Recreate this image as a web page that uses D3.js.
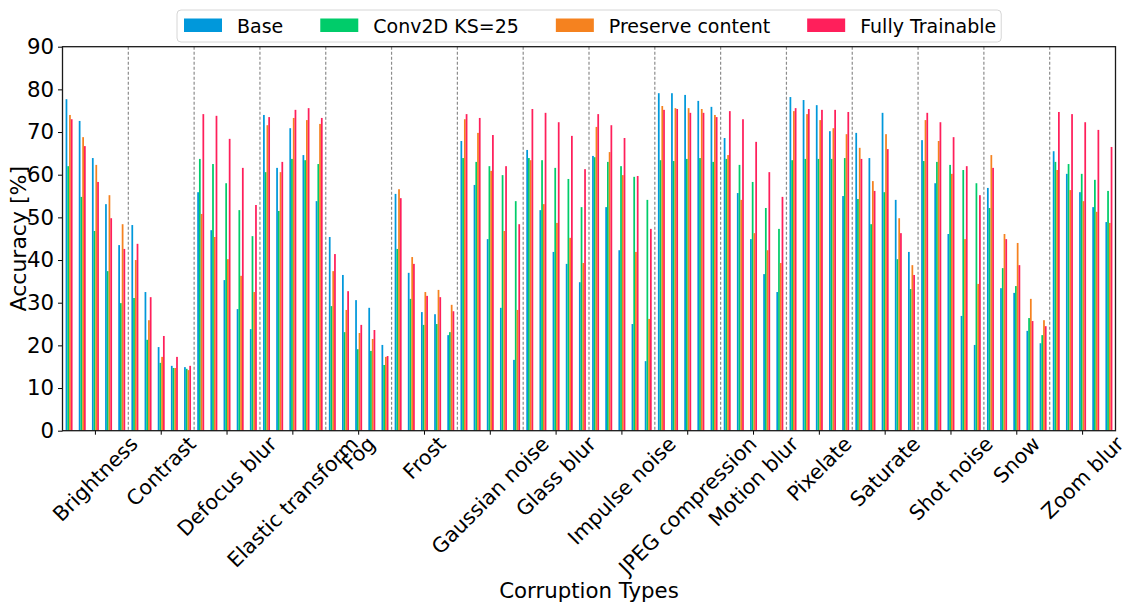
<!DOCTYPE html>
<html>
<head>
<meta charset="utf-8">
<script src="https://cdn.jsdelivr.net/npm/d3@7"></script>
<style>
  body { margin: 0; background: #fff; }
  text { font-family: "DejaVu Sans", sans-serif; fill: #000; }
</style>
</head>
<body>
<svg width="1122" height="603"></svg>
<script>
// categories and severities
const categories = ["Brightness", "Contrast", "Defocus blur", "Elastic transform", "Fog", "Frost",
  "Gaussian noise", "Glass blur", "Impulse noise", "JPEG compression", "Motion blur", "Pixelate",
  "Saturate", "Shot noise", "Snow", "Zoom blur"];
const severities = [1, 2, 3, 4, 5];
const seriesNames = ["Base", "Conv2D KS=25", "Preserve content", "Fully Trainable"];
const yTicks = [0, 10, 20, 30, 40, 50, 60, 70, 80, 90];

// accuracy per category x severity (5 values per category)
const base = [
  77.7, 72.6, 63.9, 53.1, 43.5,
  48.2, 32.5, 19.6, 15.2, 14.9,
  55.9, 47.0, 35.3, 28.5, 23.8,
  74.0, 61.6, 70.9, 64.6, 53.8,
  45.4, 36.5, 30.6, 28.8, 20.1,
  55.5, 37.0, 27.8, 27.3, 22.4,
  67.9, 57.6, 44.9, 28.8, 16.6,
  65.8, 51.7, 41.9, 39.1, 34.8,
  64.4, 52.4, 42.3, 25.0, 16.3,
  79.1, 79.1, 78.7, 77.3, 75.9,
  68.6, 55.7, 44.9, 36.7, 32.5,
  78.2, 77.5, 76.3, 70.2, 55.0,
  69.8, 63.9, 74.5, 54.1, 41.9,
  68.1, 58.0, 46.1, 26.9, 20.1,
  56.9, 33.4, 32.3, 23.4, 20.5,
  65.5, 60.2, 55.9, 52.4, 48.9
];
const conv2d = [
  62.0, 54.8, 46.8, 37.4, 29.9,
  31.1, 21.3, 15.9, 14.7, 14.5,
  63.7, 62.5, 58.0, 51.7, 45.6,
  60.6, 51.5, 63.7, 63.4, 62.5,
  29.2, 23.1, 19.1, 18.7, 15.4,
  42.6, 30.9, 24.8, 25.0, 23.1,
  63.9, 63.0, 62.0, 59.9, 53.8,
  63.9, 63.4, 61.6, 59.0, 52.4,
  64.1, 63.0, 62.0, 59.5, 54.1,
  63.4, 63.2, 63.7, 63.9, 63.0,
  63.7, 62.3, 58.3, 52.2, 47.3,
  63.4, 63.7, 63.7, 63.7, 63.9,
  54.3, 48.4, 55.9, 40.2, 33.2,
  63.2, 63.0, 62.3, 61.1, 58.0,
  52.2, 38.1, 33.9, 26.4, 22.4,
  63.0, 62.5, 60.2, 58.8, 56.2
];
const preserve = [
  74.0, 68.8, 62.3, 55.2, 48.4,
  40.0, 25.9, 17.3, 14.7, 14.2,
  50.8, 45.4, 40.2, 36.3, 32.5,
  71.6, 60.6, 73.3, 72.8, 71.9,
  37.4, 28.3, 22.9, 21.5, 17.3,
  56.6, 40.7, 32.5, 33.0, 29.5,
  73.0, 69.8, 60.9, 46.8, 28.3,
  63.4, 53.1, 48.7, 45.2, 39.3,
  71.2, 65.3, 59.9, 41.9, 26.2,
  76.1, 75.6, 75.6, 75.4, 74.0,
  64.6, 54.1, 46.3, 42.3, 39.3,
  74.9, 74.2, 72.8, 70.9, 69.5,
  66.3, 58.5, 69.5, 49.8, 38.8,
  72.8, 67.9, 60.2, 44.9, 34.4,
  64.6, 46.1, 44.0, 30.9, 25.9,
  61.1, 56.4, 53.8, 51.3, 48.7
];
const fully = [
  73.0, 66.7, 58.3, 49.8, 42.6,
  43.8, 31.3, 22.2, 17.3, 15.2,
  74.2, 73.8, 68.4, 61.6, 52.9,
  73.5, 63.0, 75.2, 75.6, 73.3,
  41.4, 32.7, 24.8, 23.6, 17.5,
  54.5, 39.1, 31.6, 31.3, 28.0,
  74.2, 73.3, 69.3, 62.0, 48.4,
  75.4, 74.5, 72.3, 69.1, 61.3,
  74.2, 71.6, 68.6, 59.7, 47.3,
  75.2, 75.4, 74.5, 74.5, 73.5,
  74.9, 73.0, 67.7, 60.6, 54.8,
  75.6, 75.4, 75.2, 75.2, 74.7,
  63.7, 56.2, 66.0, 46.3, 36.5,
  74.5, 72.3, 68.8, 62.0, 55.2,
  61.6, 44.9, 38.8, 25.7, 24.5,
  74.7, 74.2, 72.3, 70.5, 66.5
];
const colors = ["#0098DB", "#00CC6A", "#F5821F", "#FF1F5B"];

const svg = d3.select("svg");
const margin = {top: 46.7, right: 6.5, bottom: 172.3, left: 62.5};
const width = 1122 - margin.left - margin.right,
      height = 603 - margin.top - margin.bottom;
const g = svg.append("g").attr("transform", `translate(${margin.left},${margin.top})`);
const bigFont = 21.3;

// one slot per (category, severity)
const slots = [];
categories.forEach((c, ci) => severities.forEach((s, si) => slots.push({cat: c, ci: ci, sev: s, i: ci * 5 + si})));

const xCat = d3.scaleBand().domain(categories).range([0, width]);
const xSlot = d3.scaleBand().domain(slots.map(d => d.i)).range([0, width]);
const groupW = xSlot.bandwidth() * 0.53;
const xSeries = d3.scaleBand().domain(seriesNames).range([0, groupW]);
const y = d3.scaleLinear().domain([0, 90]).range([height, 0]);

const allSeries = [base, conv2d, preserve, fully];
const barData = [];
slots.forEach(d => allSeries.forEach((arr, k) => barData.push({i: d.i, s: seriesNames[k], k: k, v: arr[d.i]})));

// dashed separators between corruption types
g.append("g")
  .selectAll("line")
  .data(categories.slice(1))
  .join("line")
  .attr("x1", d => xCat(d))
  .attr("x2", d => xCat(d))
  .attr("y1", 0)
  .attr("y2", height)
  .attr("stroke", "#8c8c8c")
  .attr("stroke-width", 1.2)
  .style("stroke-dasharray", "3,2");

// bars
g.append("g")
  .selectAll("rect")
  .data(barData)
  .join("rect")
  .attr("x", d => xSlot(d.i) + xSlot.bandwidth() / 2 - groupW / 2 + xSeries(d.s))
  .attr("y", d => y(d.v))
  .attr("width", xSeries.bandwidth())
  .attr("height", d => height - y(d.v))
  .attr("fill", d => colors[d.k]);

// y axis
const yAxis = g.append("g")
  .call(d3.axisLeft(y).tickValues(yTicks).tickSize(4.5).tickPadding(4));
yAxis.select(".domain").remove();
yAxis.selectAll("text").style("font-size", bigFont + "px").style("font-family", "DejaVu Sans");
yAxis.selectAll("line").attr("stroke", "#000").attr("stroke-width", 1);

// x ticks
const xAxis = g.append("g")
  .attr("transform", `translate(0,${height})`)
  .call(d3.axisBottom(xCat).tickSize(4).tickFormat(""));
xAxis.select(".domain").remove();

// rotated tick labels, centered on the tick like matplotlib ha='center'
const labels = g.append("g")
  .selectAll("text")
  .data(categories)
  .join("text")
  .style("font-size", "20.6px")
  .attr("text-anchor", "middle")
  .attr("dominant-baseline", "central")
  .text(d => d);
labels.attr("transform", function(d) {
  const w = this.getComputedTextLength();
  const side = (w + 20) * Math.SQRT1_2;
  const cx = xCat(d) + xCat.bandwidth() / 2;
  const cy = height + 2.5 + side / 2;
  return `translate(${cx},${cy}) rotate(-45)`;
});

// frame
g.append("rect")
  .attr("width", width)
  .attr("height", height)
  .attr("fill", "none")
  .attr("stroke", "#1a1a1a")
  .attr("stroke-width", 1.3);

// axis titles
svg.append("text")
  .attr("text-anchor", "middle")
  .attr("transform", `translate(26,${margin.top + height / 2}) rotate(-90)`)
  .style("font-size", "22px")
  .text("Accuracy [%]");

svg.append("text")
  .attr("text-anchor", "middle")
  .attr("x", margin.left + width / 2)
  .attr("y", 598)
  .style("font-size", bigFont + "px")
  .text("Corruption Types");

// legend
const legend = svg.append("g");
const legendBox = legend.append("rect")
  .attr("x", 177).attr("y", 10)
  .attr("height", 32)
  .attr("rx", 4)
  .attr("fill", "#fff")
  .attr("fill-opacity", 0.8)
  .attr("stroke", "#d6d6d6");
let lx = 184;
seriesNames.forEach((name, k) => {
  legend.append("rect")
    .attr("x", lx).attr("y", 18.5)
    .attr("width", 38).attr("height", 13.5)
    .attr("fill", colors[k]);
  const t = legend.append("text")
    .attr("x", lx + 38 + 15)
    .attr("y", 25.5)
    .attr("dominant-baseline", "central")
    .style("font-size", "19px")
    .text(name);
  lx += 38 + 15 + t.node().getComputedTextLength() + 37;
});
legendBox.attr("width", lx - 37 + 5 - 177);
</script>
</body>
</html>
